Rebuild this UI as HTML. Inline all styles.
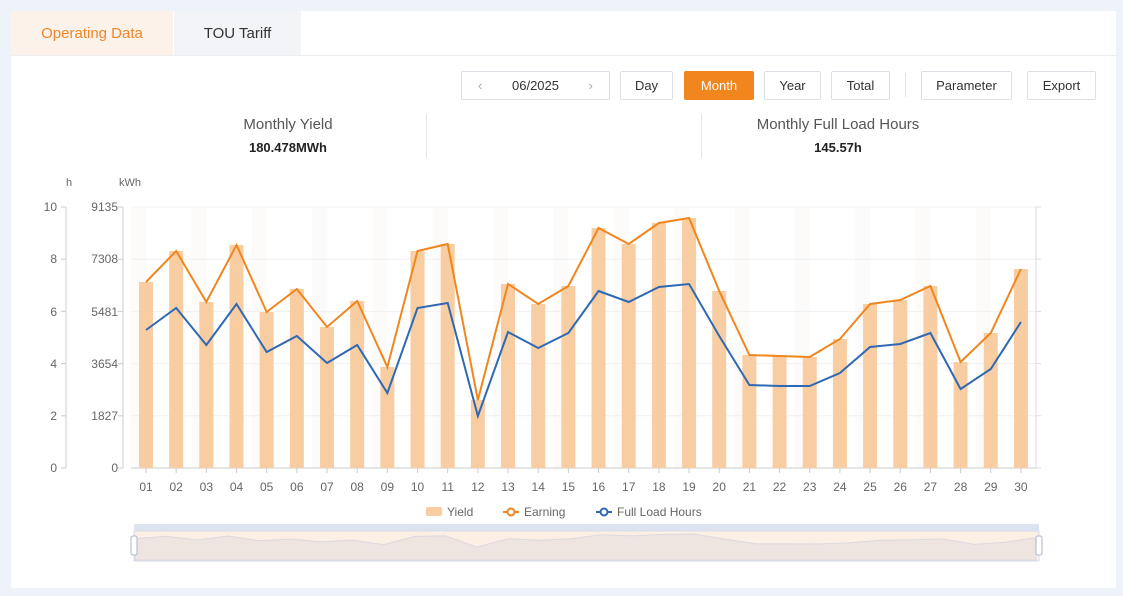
<!DOCTYPE html>
<html><head><meta charset="utf-8"><style>
body{margin:0;width:1123px;height:596px;background:#eef2f9;font-family:"Liberation Sans",sans-serif;position:relative;overflow:hidden}
.card{position:absolute;left:11px;top:11px;width:1105px;height:577px;background:#fff;border-radius:2px}
.tab{position:absolute;top:0;height:44px;line-height:46px;text-align:center;font-size:15px}
.btn{position:absolute;top:71px;line-height:27px;border:1px solid #dcdfe6;border-radius:2px;text-align:center;font-size:13px;color:#333;background:#fff;box-sizing:border-box;height:29px}
.abs{position:absolute}
</style></head><body>
<div class="card">
<div class="tab" style="left:0;width:162px;background:#fdf2e9;color:#f0862a">Operating Data</div>
<div class="tab" style="left:163px;width:127px;background:#f2f4f8;color:#333">TOU Tariff</div>
<div class="abs" style="left:0;top:44px;width:1105px;height:1px;background:#eceef2"></div>
</div>
<div class="btn" style="left:461px;width:149px;color:#333"><span style="position:absolute;left:16px;color:#aaa">&lsaquo;</span>06/2025<span style="position:absolute;right:16px;color:#aaa">&rsaquo;</span></div>
<div class="btn" style="left:620px;width:53px">Day</div>
<div class="btn" style="left:684px;width:70px;background:#f0861d;border-color:#f0861d;color:#fff">Month</div>
<div class="btn" style="left:764px;width:57px">Year</div>
<div class="btn" style="left:831px;width:59px">Total</div>
<div class="abs" style="left:905px;top:73px;width:1px;height:24px;background:#e3e3e3"></div>
<div class="btn" style="left:921px;width:91px">Parameter</div>
<div class="btn" style="left:1027px;width:69px">Export</div>
<div class="abs" style="left:188px;top:116px;width:200px;text-align:center;font-size:15px;color:#555">Monthly Yield</div>
<div class="abs" style="left:188px;top:140px;width:200px;text-align:center;font-size:13px;font-weight:bold;color:#222">180.478MWh</div>
<div class="abs" style="left:426px;top:114px;width:1px;height:44px;background:#e6e6e6"></div>
<div class="abs" style="left:701px;top:114px;width:1px;height:44px;background:#e6e6e6"></div>
<div class="abs" style="left:738px;top:116px;width:200px;text-align:center;font-size:15px;color:#555">Monthly Full Load Hours</div>
<div class="abs" style="left:738px;top:140px;width:200px;text-align:center;font-size:13px;font-weight:bold;color:#222">145.57h</div>
<svg class="abs" style="left:0;top:0" width="1123" height="596" font-family="Liberation Sans, sans-serif" font-size="12" fill="#666">
<g id="bands"></g>
<g stroke="#f0f0f0" id="grid"></g>
<line x1="66" y1="207" x2="66" y2="468" stroke="#ccc"/>
<line x1="123" y1="207" x2="123" y2="468" stroke="#ccc"/>
<line x1="1036" y1="207" x2="1036" y2="468" stroke="#ddd"/>
<line x1="131" y1="468" x2="1036" y2="468" stroke="#ccc"/>
<text x="66" y="186" font-size="11">h</text><text x="119" y="186" font-size="11">kWh</text>
<g text-anchor="end">
<text x="57" y="211">10</text><text x="57" y="263">8</text><text x="57" y="316">6</text><text x="57" y="368">4</text><text x="57" y="420">2</text><text x="57" y="472">0</text>
<text x="118" y="211">9135</text><text x="118" y="263">7308</text><text x="118" y="316">5481</text><text x="118" y="368">3654</text><text x="118" y="420">1827</text><text x="118" y="472">0</text>
</g>
<g id="bars" fill="#f8cda2"></g>
<g id="xl" text-anchor="middle" font-size="12"></g>
<polyline id="earn" fill="none" stroke="#f0861d" stroke-width="2"/>
<polyline id="flh" fill="none" stroke="#2f69b3" stroke-width="2"/>
<rect x="426" y="507" width="16" height="9" rx="2" fill="#f8cda2"/><text x="447" y="516">Yield</text>
<line x1="503" y1="512" x2="519" y2="512" stroke="#f0861d" stroke-width="2"/><circle cx="511" cy="512" r="3.5" fill="#fff" stroke="#f0861d" stroke-width="2"/><text x="524" y="516">Earning</text>
<line x1="596" y1="512" x2="612" y2="512" stroke="#2f69b3" stroke-width="2"/><circle cx="604" cy="512" r="3.5" fill="#fff" stroke="#2f69b3" stroke-width="2"/><text x="617" y="516">Full Load Hours</text>
<rect x="134" y="524" width="905" height="7" fill="#dde3f0"/>
<rect x="134" y="531" width="905" height="30" fill="#fbf0e3" stroke="#d5dcea"/>
<path id="mini" fill="#efe5e0" stroke="#dcd8e0"/>
<rect x="131" y="536" width="6" height="19" rx="2" fill="#fff" stroke="#aab4cc"/>
<rect x="1036" y="536" width="6" height="19" rx="2" fill="#fff" stroke="#aab4cc"/>
</svg>
<script>
var bt=[282,251,302,245,312,289,327,301,367,251,244,400,284,304,286,228,244,223,218,291,355,356,357,339,304,300,286,362,333,269];
var ft=[330,308,345,304,352,336,363,345,393,308,303,416,332,348,333,291,302,287,284,336,385,386,386,373,347,344,333,389,369,322];
var ns="http://www.w3.org/2000/svg";function el(g,t,a){var e=document.createElementNS(ns,t);for(var k in a)e.setAttribute(k,a[k]);document.getElementById(g).appendChild(e);return e}
var ep=[],fp=[],mp="M135,560";
for(var i=0;i<30;i++){var x=146+i*30.17;
if(i%2==0)el("bands","rect",{x:x-15,y:207,width:15.08,height:261,fill:"#fdfbf9"});
el("bars","rect",{x:x-7,y:bt[i],width:14,height:468-bt[i]});
ep.push(x+","+bt[i]);fp.push(x+","+ft[i]);
var mx=135+i*(1036-135)/29;mp+=" L"+mx+","+(534+(bt[i]-218)/(468-218)*30*0.6);
el("xl","line",{x1:x,y1:468,x2:x,y2:473,stroke:"#ccc"});
var t=el("xl","text",{x:x,y:491});t.textContent=(i<9?"0":"")+(i+1);}
mp+=" L1036,560Z";
for(var j=0;j<6;j++){var y=207+j*52.2;el("grid","line",{x1:131,y1:y,x2:1036,y2:y});el("grid","line",{x1:61,y1:y,x2:66,y2:y,stroke:"#ccc"});el("grid","line",{x1:118,y1:y,x2:123,y2:y,stroke:"#ccc"});el("grid","line",{x1:1036,y1:y,x2:1041,y2:y,stroke:"#ddd"});}
document.getElementById("earn").setAttribute("points",ep.join(" "));
document.getElementById("flh").setAttribute("points",fp.join(" "));
document.getElementById("mini").setAttribute("d",mp);
</script>
</body></html>
